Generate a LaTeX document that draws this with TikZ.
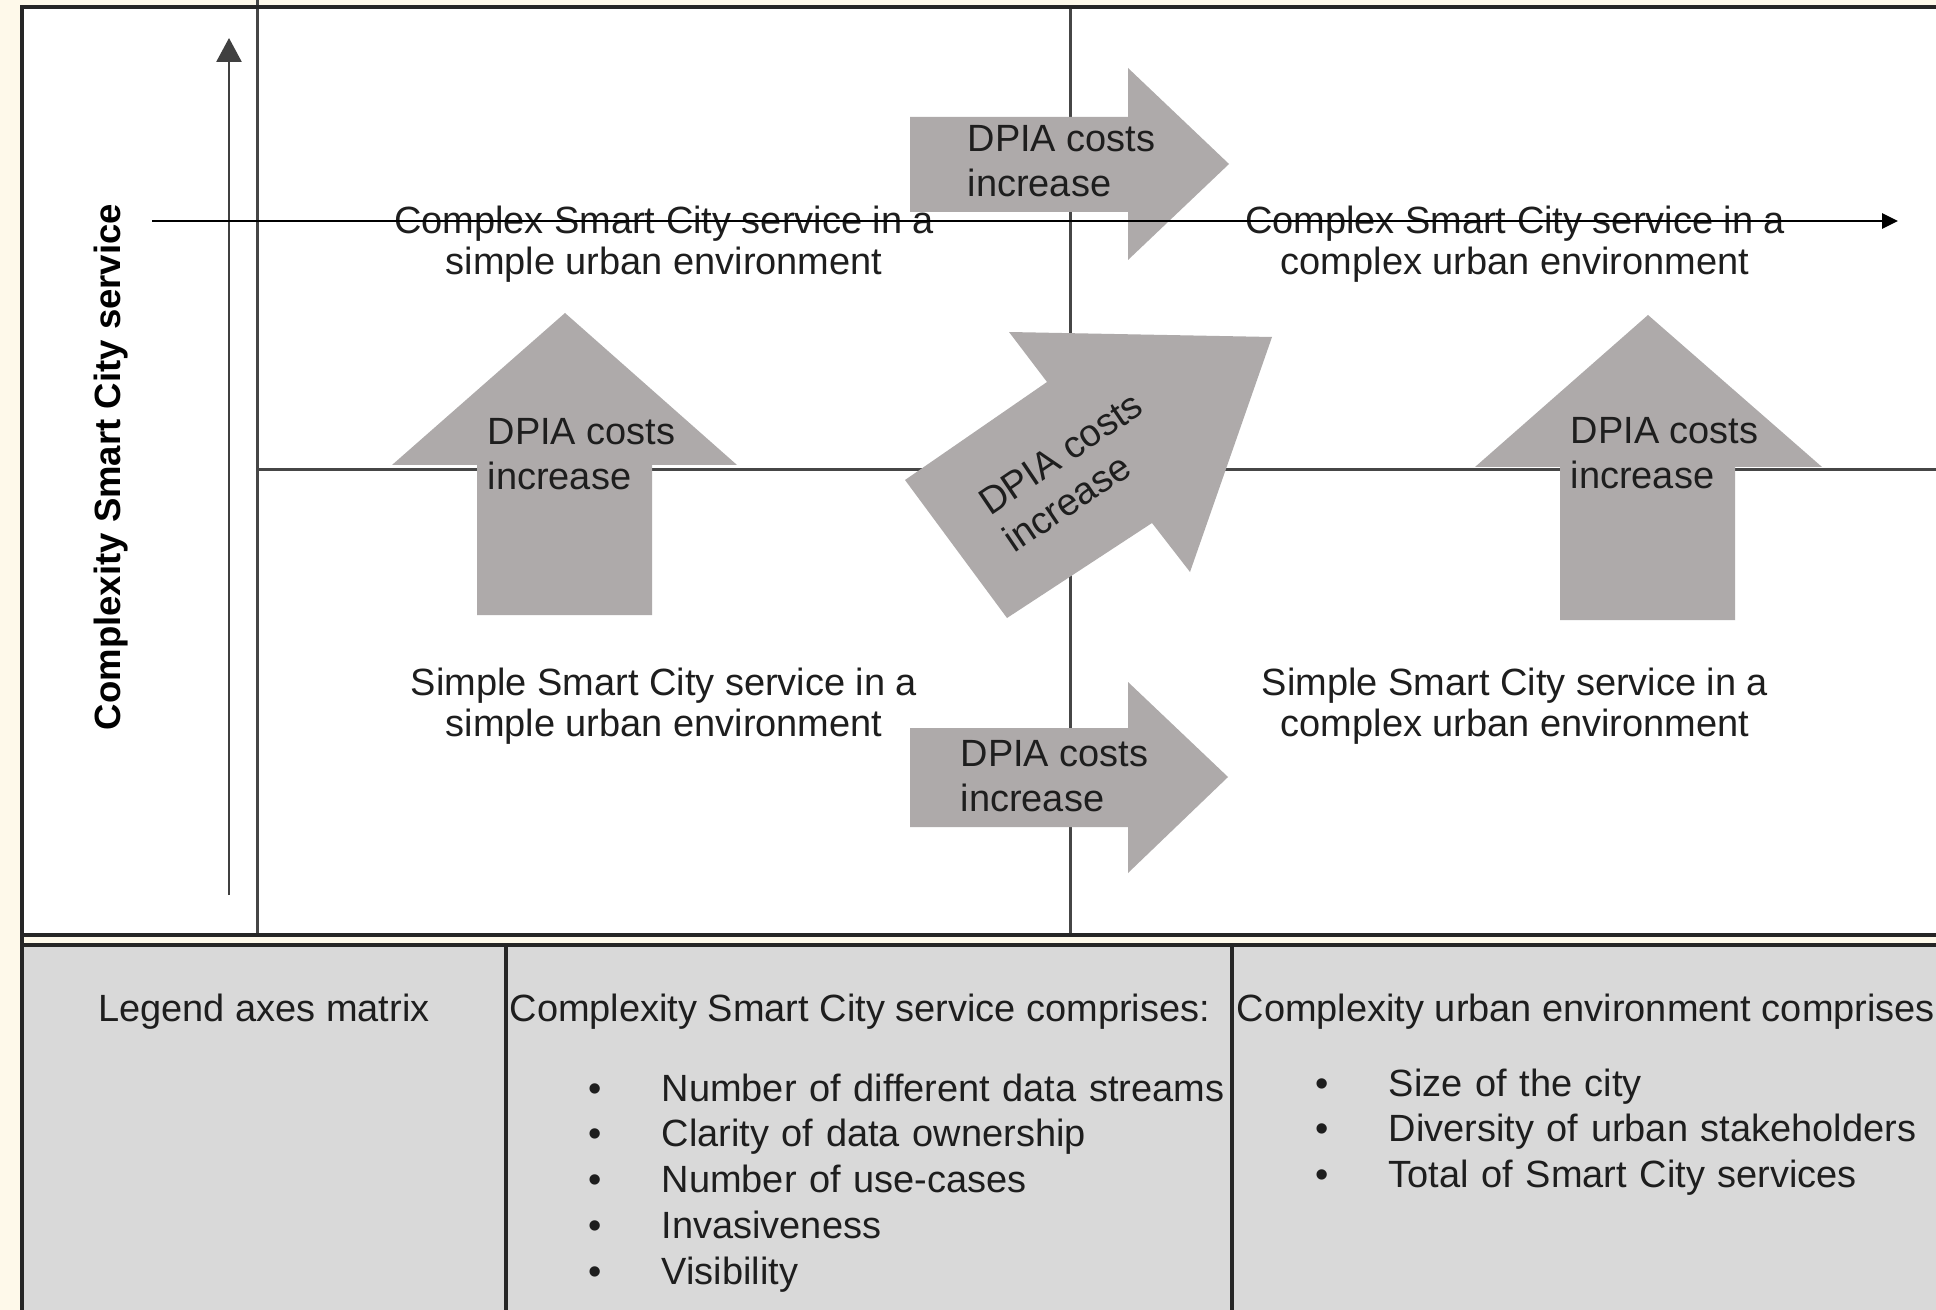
\documentclass[tikz,border=0pt]{standalone}
\usepackage{fontspec}
\setmainfont{Liberation Sans}
\usetikzlibrary{positioning, arrows.meta}

\definecolor{cream}{RGB}{254,249,234}
\definecolor{costgray}{RGB}{174,170,170}
\definecolor{legendgray}{RGB}{217,217,217}
\definecolor{gridgray}{RGB}{70,70,70}
\definecolor{inkgray}{RGB}{30,30,30}

\tikzset{
    quadtext/.style={font=\fontsize{10.8}{11.6}\selectfont, align=center, inner sep=0pt, text=inkgray},
    costtext/.style={font=\fontsize{10.8}{12.6}\selectfont, align=left, inner sep=0pt, text=inkgray},
    costarrow/.style={fill=costgray},
    legendtext/.style={font=\fontsize{10.8}{12}\selectfont, inner sep=0pt, text=inkgray},
    listitem/.style={legendtext, text width=68mm, align=left, text height=3.2mm, text depth=1.25mm},
    quadline/.style={draw=gridgray, line width=0.3mm},
    outerline/.style={draw=black!85, line width=0.4mm},
    axisline/.style={draw=black, line width=0.28mm}
}

\begin{document}
\begin{tikzpicture}[x=0.1mm, y=-0.1mm]
    \useasboundingbox (0,0) rectangle (1936,1310);
    \fill[cream] (0,0) rectangle (1936,1310);
    \fill[white] (22,7) rectangle (1936,935);
    \fill[legendgray] (22,945) rectangle (1936,1310);

    \draw[quadline] (257,0) -- (257,935);
    \draw[quadline] (1070,7) -- (1070,935);
    \draw[quadline] (257,470) -- (1936,470);

    \draw[outerline] (22,1310) -- (22,7) -- (1936,7);
    \draw[outerline] (22,935) -- (1936,935);
    \draw[outerline] (22,945) -- (1936,945);
    \draw[outerline] (506,945) -- (506,1310);
    \draw[outerline] (1232,945) -- (1232,1310);

    \fill[costarrow] (910,117) -- (1128,117) -- (1128,68) -- (1229,164) -- (1128,260) -- (1128,212) -- (910,212) -- cycle;
    \fill[costarrow] (910,728) -- (1128,728) -- (1128,682) -- (1228,777) -- (1128,873) -- (1128,827) -- (910,827) -- cycle;
    \fill[costarrow] (477,615) -- (477,465) -- (392,465) -- (565,313) -- (737,465) -- (652,465) -- (652,615) -- cycle;
    \fill[costarrow] (1560,620) -- (1560,467) -- (1475,467) -- (1648,315) -- (1822,467) -- (1735,467) -- (1735,620) -- cycle;
    \fill[costarrow] (1007,618) -- (905,480) -- (1047,382) -- (1009,332) -- (1272,337) -- (1190,572) -- (1152,523) -- cycle;

    \node[quadtext] (cxsimple) at (664,244) {Complex Smart City service in a\\simple urban environment};
    \node[quadtext] (cxcomplex) at (1515,244) {Complex Smart City service in a\\complex urban environment};
    \node[quadtext] (smsimple) at (664,706) {Simple Smart City service in a\\simple urban environment};
    \node[quadtext] (smcomplex) at (1515,706) {Simple Smart City service in a\\complex urban environment};

    \node[costtext, anchor=north west] (costtop) at (967,125) {DPIA costs\\increase};
    \node[costtext, anchor=north west] (costbottom) at (960,740) {DPIA costs\\increase};
    \node[costtext, anchor=north west] (costleft) at (487,418) {DPIA costs\\increase};
    \node[costtext, anchor=north west] (costright) at (1570,417) {DPIA costs\\increase};
    \node[costtext, rotate=34] (costdiag) at (1073,472) {DPIA costs\\increase};

    \coordinate (ybottom) at (229,895);
    \coordinate (ytop) at (229,38);
    \coordinate (xleft) at (152,221);
    \coordinate (xright) at (1898,221);
    \draw[axisline, draw=black!75, -{Triangle[length=2.4mm, width=2.5mm]}] (ybottom) -- (ytop);
    \draw[axisline, -{Triangle[length=1.6mm, width=1.5mm]}] (xleft) -- (xright);

    \node[font=\bfseries\fontsize{10.4}{12}\selectfont, rotate=90, text=black] (servicelabel) at (111,467) {Complexity Smart City service};

    \node[legendtext, anchor=base] (legendhead) at (264,1021) {Legend axes matrix};
    \node[legendtext, anchor=base west] (servicehead) at (509,1021) {Complexity Smart City service comprises:};
    \node[legendtext, anchor=base west] (urbanhead) at (1236,1021) {Complexity urban environment comprises:};

    \node[listitem, anchor=base west] (streams) at (588,1101) {\makebox[7.3mm][l]{\textbullet}Number of different data streams};
    \node[listitem, below=0pt of streams] (ownership) {\makebox[7.3mm][l]{\textbullet}Clarity of data ownership};
    \node[listitem, below=0pt of ownership] (usecases) {\makebox[7.3mm][l]{\textbullet}Number of use-cases};
    \node[listitem, below=0pt of usecases] (invasive) {\makebox[7.3mm][l]{\textbullet}Invasiveness};
    \node[listitem, below=0pt of invasive] (visible) {\makebox[7.3mm][l]{\textbullet}Visibility};

    \node[listitem, anchor=base west] (citysize) at (1315,1096) {\makebox[7.3mm][l]{\textbullet}Size of the city};
    \node[listitem, below=0pt of citysize] (diversity) {\makebox[7.3mm][l]{\textbullet}Diversity of urban stakeholders};
    \node[listitem, below=0pt of diversity] (services) {\makebox[7.3mm][l]{\textbullet}Total of Smart City services};
\end{tikzpicture}
\end{document}
